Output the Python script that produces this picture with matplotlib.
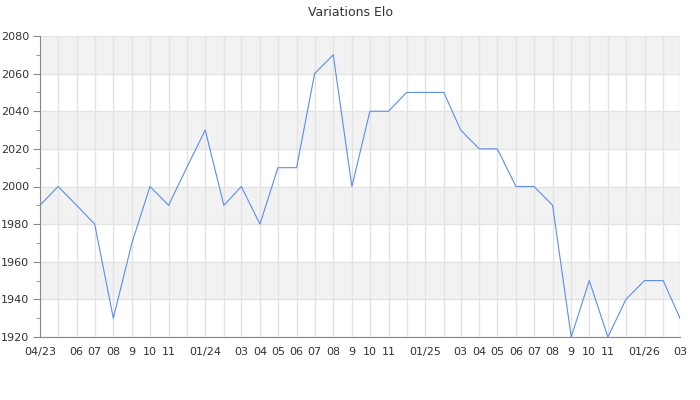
import numpy as np
import pandas as pd
import matplotlib
matplotlib.use('Agg')
import matplotlib.pyplot as plt

# 数据：每月 Elo
months = pd.date_range('2023-04-01', '2026-03-01', freq='MS')
elo = [1990, 2000, 1990, 1980, 1930, 1970, 2000, 1990, 2010,
       2030, 1990, 2000, 1980, 2010, 2010, 2060, 2070, 2000, 2040, 2040, 2050,
       2050, 2050, 2030, 2020, 2020, 2000, 2000, 1990, 1920, 1950, 1920, 1940,
       1950, 1950, 1930]

# 显示的刻度标签（其余月份只有网格线）
tick_labels = {
    '2023-04': '04/23', '2023-06': '06', '2023-07': '07', '2023-08': '08',
    '2023-09': '9', '2023-10': '10', '2023-11': '11',
    '2024-01': '01/24', '2024-03': '03', '2024-04': '04', '2024-05': '05',
    '2024-06': '06', '2024-07': '07', '2024-08': '08', '2024-09': '9',
    '2024-10': '10', '2024-11': '11',
    '2025-01': '01/25', '2025-03': '03', '2025-04': '04', '2025-05': '05',
    '2025-06': '06', '2025-07': '07', '2025-08': '08', '2025-09': '9',
    '2025-10': '10', '2025-11': '11',
    '2026-01': '01/26', '2026-03': '03',
}

y_min, y_max = 1920, 2080

fig = plt.figure(figsize=(7, 4), dpi=100)
ax = fig.add_axes([40 / 700, 63 / 400, 640 / 700, 301 / 400])

# 交替的灰色条带
for lo in range(y_min, y_max, 20):
    if ((lo - y_min) // 20) % 2 == 1:
        ax.axhspan(lo, lo + 20, color='#f2f2f2', zorder=0, lw=0)

ax.plot(months, elo, color='#5b8def', lw=0.8, zorder=3)

ax.set_xlim(months[0], months[-1])
ax.set_ylim(y_min, y_max)

ax.set_xticks(months)
ax.set_xticklabels([tick_labels.get(m.strftime('%Y-%m'), '') for m in months])
ax.set_yticks(np.arange(y_min, y_max + 1, 20))
ax.set_yticks(np.arange(y_min, y_max + 1, 10), minor=True)

ax.grid(True, which='major', color='#e3e3e3', lw=1, zorder=1)
ax.set_axisbelow(True)

for s in ['top', 'right']:
    ax.spines[s].set_visible(False)
for s in ['left', 'bottom']:
    ax.spines[s].set_color('#888888')

ax.tick_params(axis='x', length=0, pad=7, labelsize=8, labelcolor='#333333')
ax.tick_params(axis='y', which='major', length=5, color='#888888',
               labelsize=8, labelcolor='#333333', pad=3)
ax.tick_params(axis='y', which='minor', length=3, color='#888888')

fig.suptitle('Variations Elo', y=0.985, fontsize=9, color='#333333')

fig.savefig('out.png', dpi=100)
